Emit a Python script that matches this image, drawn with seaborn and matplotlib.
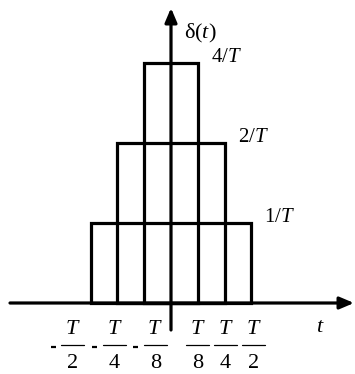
import matplotlib
matplotlib.use("Agg")
import matplotlib.pyplot as plt
import matplotlib.transforms as mtransforms
import seaborn as sns

# Schematic staircase of rectangular pulses (display levels, not to scale)
levels = [1, 2, 3]
level_labels = [r'$1/T$', r'$2/T$', r'$4/T$']
half_widths = [3, 2, 1]

tick_pos = [-3, -2, -1, 1, 2, 3]
tick_denoms = ['2', '4', '8', '8', '4', '2']
tick_negative = [True, True, True, False, False, False]

# layout tweaks (pixels) for the hand-set fraction labels
label_shift_px = [-18, -3, 11, 0, 1, 2]

sns.set_theme(style="white")
plt.rcParams['font.family'] = ['Liberation Serif', 'DejaVu Serif']
plt.rcParams['text.color'] = 'black'
plt.rcParams['mathtext.fontset'] = 'custom'
plt.rcParams['mathtext.rm'] = 'Liberation Serif'
plt.rcParams['mathtext.it'] = 'Liberation Serif:italic'

W, H, DPI = 355, 374, 100
fig = plt.figure(figsize=(W / DPI, H / DPI), dpi=DPI)
fig.patch.set_facecolor('white')
ax = fig.add_axes([0, 0, 1, 1])
ax.set_axis_off()

px_x = 26.8   # pixels per x unit
px_y = 80.0   # pixels per y unit
x0, y0 = 171, 303
ax.set_xlim(-x0 / px_x, (W - x0) / px_x)
ax.set_ylim(-(H - y0) / px_y, y0 / px_y)

LW = 2.3
FS = 15

# rectangles
for lev, hw in zip(levels, half_widths):
    ax.bar(0, lev, width=2 * hw, bottom=0, fill=False, edgecolor='black',
           linewidth=LW, joinstyle='miter', zorder=3)

# axes with arrows
arrow = dict(arrowstyle='-|>,head_length=0.85,head_width=0.36', lw=LW,
             color='black', shrinkA=0, shrinkB=0, mutation_scale=10)
xl = ax.get_xlim()
yl = ax.get_ylim()
ax.annotate('', xy=(xl[1] - 1 / px_x, 0), xytext=(xl[0] + 10 / px_x, 0),
            arrowprops=arrow, zorder=4)
ax.annotate('', xy=(0, yl[1] - 8 / px_y), xytext=(0, -27 / px_y),
            arrowprops=arrow, zorder=4)

# level labels
for lev, hw, lab in zip(levels, half_widths, level_labels):
    ax.annotate(lab, xy=(hw, lev), xytext=(13, 6), textcoords='offset pixels',
                ha='left', va='center', fontsize=FS)

ax.annotate(r'$\mathrm{\delta}(t)$', xy=(0, yl[1]), xytext=(13, -33),
            textcoords='offset pixels', ha='left', va='center', fontsize=FS + 1)
ax.annotate(r'$t$', xy=(xl[1], 0), xytext=(-35, -25),
            textcoords='offset pixels', ha='center', va='center', fontsize=FS + 1)

# fraction tick labels
frac_half = 11.5
for pos, den, neg, sh in zip(tick_pos, tick_denoms, tick_negative, label_shift_px):
    ax.annotate(r'$T$', xy=(pos, 0), xytext=(sh, -26), textcoords='offset pixels',
                ha='center', va='center', fontsize=16)
    ax.annotate(den, xy=(pos, 0), xytext=(sh, -60), textcoords='offset pixels',
                ha='center', va='center', fontsize=16)
    tr = mtransforms.offset_copy(ax.transData, fig=fig, x=sh, y=-42, units='dots')
    ax.plot([pos - frac_half / px_x, pos + frac_half / px_x], [0, 0],
            color='black', lw=0.9, transform=tr)
    if neg:
        trm = mtransforms.offset_copy(ax.transData, fig=fig, x=sh - 19.5, y=-44,
                                      units='dots')
        ax.plot([pos - 2.5 / px_x, pos + 2.5 / px_x], [0, 0], color='black',
                lw=1.6, transform=trm, solid_capstyle='butt')

fig.savefig('out.png', dpi=DPI, facecolor='white')
